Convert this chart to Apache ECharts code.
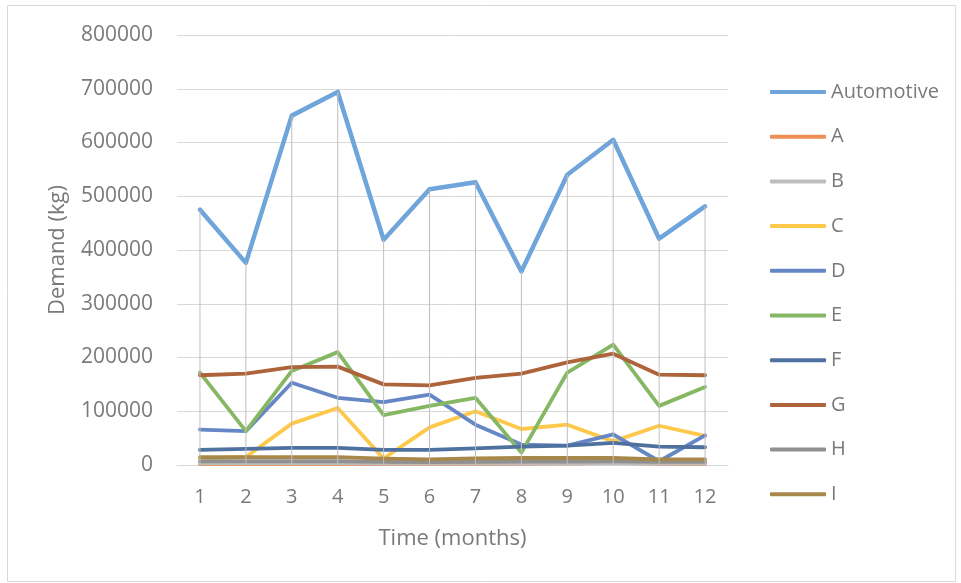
<!DOCTYPE html>
<html>
<head>
<meta charset="utf-8">
<script src="https://cdn.jsdelivr.net/npm/echarts@6/dist/echarts.min.js"></script>
<style>
  html, body { margin: 0; padding: 0; background: #ffffff; }
  #chart { width: 961px; height: 583px; }
</style>
</head>
<body>
<div id="chart"></div>
<script>
// Monthly demand by sector (kg)
const months = ['1', '2', '3', '4', '5', '6', '7', '8', '9', '10', '11', '12'];

const automotive = [475000, 376000, 650000, 694000, 419000, 513000, 526000, 360000, 540000, 605000, 421000, 481000];
const seriesA = [1500, 1500, 1500, 1500, 1500, 1500, 1500, 2000, 2500, 4000, 2000, 1500];
const seriesB = [3000, 3000, 3000, 3000, 2500, 2500, 2500, 2500, 2500, 3000, 2500, 2500];
const seriesC = [12000, 15000, 77000, 106000, 12000, 70000, 100000, 67000, 75000, 44000, 73000, 54000];
const seriesD = [66000, 63000, 153000, 125000, 117000, 131000, 75000, 38000, 36000, 57000, 7000, 55000];
const seriesE = [172000, 63000, 175000, 210000, 93000, 110000, 125000, 23000, 172000, 224000, 110000, 145000];
const seriesF = [28000, 30000, 32000, 32000, 28000, 28000, 31000, 34000, 36000, 41000, 34000, 33000];
const seriesG = [167000, 170000, 182000, 183000, 150000, 148000, 162000, 170000, 191000, 207000, 168000, 167000];
const seriesH = [7000, 7000, 7000, 7000, 6000, 5500, 6000, 6500, 6500, 7000, 6000, 6000];
const seriesI = [14500, 14500, 14500, 14500, 12000, 10500, 12500, 13000, 13000, 13000, 10500, 10500];

const seriesNames = ['Automotive', 'A', 'B', 'C', 'D', 'E', 'F', 'G', 'H', 'I'];
const seriesValues = [automotive, seriesA, seriesB, seriesC, seriesD, seriesE, seriesF, seriesG, seriesH, seriesI];
const seriesColors = ['#6fa5da', '#f08f55', '#bdbdbd', '#fec84a', '#6687c6', '#86b863', '#4f71a0', '#ae643a', '#909090', '#a8884a'];

const yTicks = { min: 0, max: 800000, interval: 100000 };

const textGrey = '#7a7a7a';
const fontFamily = '"Open Sans", "Noto Sans", sans-serif';

const lineSeries = seriesNames.map((name, i) => ({
  name: name,
  type: 'line',
  data: seriesValues[i],
  showSymbol: false,
  symbol: 'none',
  smooth: false,
  color: seriesColors[i],
  itemStyle: { color: seriesColors[i] },
  lineStyle: {
    color: seriesColors[i],
    width: i === 0 ? 4.5 : 3.8,
    cap: 'round',
    join: 'round'
  },
  z: 2,
  animation: false
}));

// Drop lines from each Automotive point to the category axis
const dropLines = {
  name: 'dropLines',
  type: 'bar',
  data: automotive,
  barWidth: 1,
  itemStyle: { color: '#bfbfbf' },
  z: 5,
  silent: true,
  animation: false
};

const chart = echarts.init(document.getElementById('chart'), null, { renderer: 'canvas' });

chart.setOption({
  backgroundColor: '#ffffff',
  animation: false,
  textStyle: { fontFamily: fontFamily },
  graphic: [{
    type: 'rect',
    shape: { x: 7.5, y: 5.5, width: 948, height: 576 },
    style: { fill: 'none', stroke: '#d9d9d9', lineWidth: 1 },
    z: -10
  }],
  grid: { left: 177, right: 233, top: 35, height: 430, containLabel: false },
  legend: {
    data: seriesNames,
    orient: 'vertical',
    left: 765,
    top: 75,
    icon: 'roundRect',
    itemWidth: 56,
    itemHeight: 4,
    itemGap: 20.7,
    textStyle: { color: textGrey, fontSize: 20, lineHeight: 24, fontFamily: fontFamily }
  },
  xAxis: {
    type: 'category',
    data: months,
    name: 'Time (months)',
    nameLocation: 'middle',
    nameGap: 63,
    nameTextStyle: { color: textGrey, fontSize: 22, fontFamily: fontFamily },
    axisLine: { show: true, lineStyle: { color: '#d9d9d9', width: 1 } },
    axisTick: { show: false },
    axisLabel: { color: textGrey, fontSize: 20, margin: 22, fontFamily: fontFamily },
    splitLine: { show: false }
  },
  yAxis: {
    type: 'value',
    min: yTicks.min,
    max: yTicks.max,
    interval: yTicks.interval,
    name: 'Demand (kg)',
    nameLocation: 'middle',
    nameGap: 108,
    nameRotate: 90,
    nameTextStyle: { color: textGrey, fontSize: 22, fontFamily: fontFamily },
    axisLine: { show: false },
    axisTick: { show: false },
    axisLabel: {
      color: textGrey,
      fontSize: 21,
      margin: 24,
      fontFamily: fontFamily,
      formatter: (v) => String(v)
    },
    splitLine: { show: true, lineStyle: { color: '#d9d9d9', width: 1 } }
  },
  series: lineSeries.concat([dropLines])
});
</script>
</body>
</html>
